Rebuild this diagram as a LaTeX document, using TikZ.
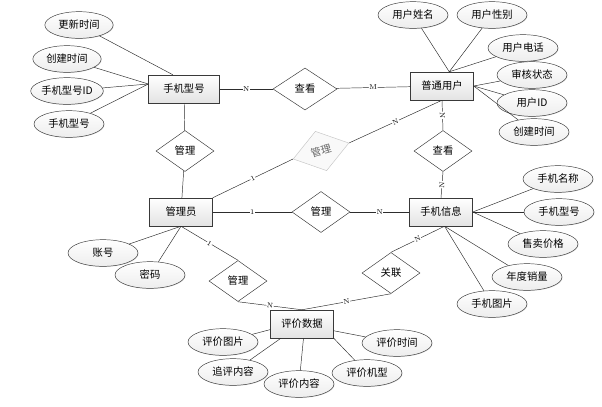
\documentclass[tikz,border=0pt]{standalone}
\usepackage{fontspec}
\newfontfamily\cjk{Noto Sans CJK SC}
\usetikzlibrary{shapes.geometric, shadows}

\begin{document}
\begin{tikzpicture}[x=0.03cm, y=-0.03cm, thin]
	\tikzstyle{entity}=[rectangle, draw=gray!45!black, top color=white, bottom color=gray!22, drop shadow={shadow xshift=0.7pt, shadow yshift=-0.7pt, opacity=0.35}, minimum width=1.89cm, minimum height=0.84cm, font=\cjk\fontsize{8.8}{10}\selectfont]
	\tikzstyle{attr}=[ellipse, draw=gray!45!black, top color=white, bottom color=gray!14, drop shadow={shadow xshift=0.5pt, shadow yshift=-0.5pt, opacity=0.25}, inner sep=0pt, minimum width=2.1cm, minimum height=0.8cm, font=\cjk\fontsize{8.8}{10}\selectfont]
	\tikzstyle{relation}=[diamond, draw=gray!45!black, fill=white, inner sep=0pt, minimum width=1.74cm, minimum height=1.23cm, font=\cjk\fontsize{8.8}{10}\selectfont]
	\tikzstyle{conn}=[draw=gray!35!black]
	\tikzstyle{card}=[fill=white, inner sep=0.4pt, sloped, font=\fontsize{6}{7}\selectfont]

	\useasboundingbox (0,0) rectangle (602,406);

	% entities
	\node[entity, minimum width=2.13cm] (ptype) at (184,89) {手机型号};
	\node[entity] (user) at (442,86) {普通用户};
	\node[entity] (admin) at (181,212) {管理员};
	\node[entity] (info) at (441,212) {手机信息};
	\node[entity] (review) at (302,324) {评价数据};

	% relations
	\node[relation, minimum width=1.92cm, minimum height=1.26cm] (see1) at (305,89) {查看};
	\node[relation] (see2) at (443,151) {查看};
	\node[relation] (mgr1) at (185,151) {管理};
	\node[relation, draw=gray!45, text=gray!80!black, fill=gray!5, rotate=16] (mgr2) at (321,151) {管理};
	\node[relation] (mgr3) at (321,212) {管理};
	\node[relation] (mgr4) at (238,281) {管理};
	\node[relation] (link) at (391,273) {关联};

	% attributes of 手机型号
	\node[attr, minimum width=2.05cm] (pt1) at (79,25) {更新时间};
	\node[attr, minimum width=2.05cm] (pt2) at (67,59) {创建时间};
	\node[attr] (pt3) at (67,91) {手机型号ID};
	\node[attr] (pt4) at (69,124) {手机型号};

	% attributes of 普通用户
	\node[attr] (us1) at (413,15) {用户姓名};
	\node[attr] (us2) at (492,15) {用户性别};
	\node[attr] (us3) at (523,48) {用户电话};
	\node[attr] (us4) at (532,75) {审核状态};
	\node[attr] (us5) at (532,103) {用户ID};
	\node[attr] (us6) at (534,132) {创建时间};

	% attributes of 手机信息
	\node[attr] (in1) at (558,179) {手机名称};
	\node[attr] (in2) at (559,212) {手机型号};
	\node[attr] (in3) at (543,244) {售卖价格};
	\node[attr] (in4) at (527,277) {年度销量};
	\node[attr] (in5) at (492,304) {手机图片};

	% attributes of 管理员
	\node[attr] (ad1) at (103,253) {账号};
	\node[attr] (ad2) at (150,275) {密码};

	% attributes of 评价数据
	\node[attr] (rv1) at (223,342) {评价图片};
	\node[attr] (rv2) at (233,372) {追评内容};
	\node[attr] (rv3) at (299,384) {评价内容};
	\node[attr] (rv4) at (367,373) {评价机型};
	\node[attr] (rv5) at (397,343) {评价时间};

	\path[conn] (pt1) edge (ptype.128);
	\path[conn] (pt2) edge (ptype.172);
	\path[conn] (pt3) edge (ptype.172);
	\path[conn] (pt4) edge (ptype.172);
	\path[conn] (us1) edge (user.63);
	\path[conn] (us2) edge (user.63);
	\path[conn] (us3) edge (user.63);
	\path[conn] (us4) edge (user.east);
	\path[conn] (us5) edge (user.east);
	\path[conn] (us6) edge (user.east);
	\path[conn] (in1) edge (info.east);
	\path[conn] (in2) edge (info.east);
	\path[conn] (in3) edge (info.east);
	\path[conn] (in4) edge (info.-76);
	\path[conn] (in5) edge (info.-76);
	\path[conn] (ad1) edge (admin.south);
	\path[conn] (ad2) edge (admin.south);
	\path[conn] (rv1) edge (review.190);
	\path[conn] (rv2) edge (review.214);
	\path[conn] (rv3) edge (review.-84);
	\path[conn] (rv4) edge (review.south east);
	\path[conn] (rv5) edge (review.-12);

	\path[conn] (ptype) edge node[card] {N} (see1);
	\path[conn] (see1) edge node[card] {M} (user);
	\path[conn] (ptype) edge (mgr1);
	\path[conn] (mgr1) edge (admin);
	\path[conn] (user.south) edge node[card] {N} (see2.north);
	\path[conn] (see2.south) edge node[card] {N} (info.north);
	\path[conn] (admin.north east) edge node[card] {1} (mgr2.west);
	\path[conn] (mgr2.east) edge node[card] {N} (user.south);
	\path[conn] (admin) edge node[card] {1} (mgr3);
	\path[conn] (mgr3) edge node[card] {N} (info);
	\path[conn] (admin.south) edge node[card] {1} (mgr4.north);
	\path[conn] (mgr4.south) edge node[card] {N} (review.north);
	\path[conn] (link.south) edge node[card] {N} (review.north);
	\path[conn] (link.north) edge node[card] {N} (info.-76);
\end{tikzpicture}
\end{document}
